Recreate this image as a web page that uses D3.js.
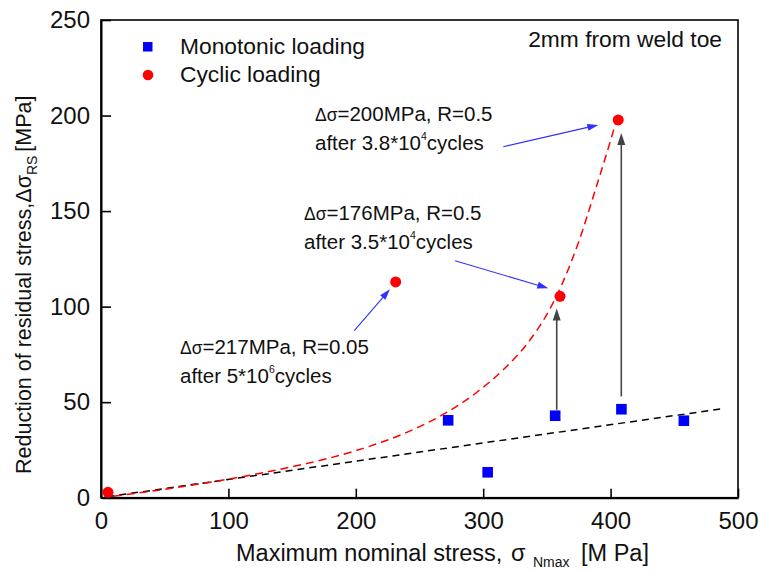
<!DOCTYPE html>
<html>
<head>
<meta charset="utf-8">
<script src="https://cdn.jsdelivr.net/npm/d3@7"></script>
<style>
  html, body { margin: 0; padding: 0; background: #fff; }
  svg { display: block; font-family: Arial, "Liberation Sans", sans-serif; }
</style>
</head>
<body>
<svg id="chart" width="761" height="572"></svg>
<script>
// ---------------- data ----------------
const xTicks = [0, 100, 200, 300, 400, 500];
const yTicks = [0, 50, 100, 150, 200, 250];

const monoX = [272.5, 303.5, 356.5, 408.5, 457.5];
const monoY = [40.5, 13.3, 42.9, 46.3, 40.3];

const cycX = [5.5, 231.3, 360.3, 406.0];
const cycY = [2.8, 112.9, 105.4, 197.7];

// linear fit (black dashed), read at its two ends
const fitLinX = [5, 488];
const fitLinY = [0.5, 46.6];

// curve fit of cyclic loading (red dashed)
const fitCycX = [10, 50, 100, 150, 200, 240, 270, 295, 315, 335, 350, 362, 375, 388, 400, 404];
const fitCycY = [0.8, 4.4, 9.7, 16.2, 24.6, 34.2, 44.1, 55.2, 66.5, 81, 96, 112, 134, 161, 187, 196];

// grey vertical arrows: from monotonic point to cyclic point
const vArrowX = [357.7, 408.4];
const vArrowY0 = [46, 53];
const vArrowY1 = [99, 190.8];

// blue annotation arrows (tail -> tip)
const bArrowX0 = [315.8, 277.9, 198.8];
const bArrowY0 = [183.7, 124.0, 87.4];
const bArrowX1 = [390.4, 351.1, 226.8];
const bArrowY1 = [195.1, 109.6, 109.1];

const annotLine1 = ["=200MPa, R=0.5", "=176MPa, R=0.5", "=217MPa, R=0.05"];
const annotMant = ["after 3.8*10", "after 3.5*10", "after 5*10"];
const annotExp = ["4", "4", "6"];

const legendLabels = ["Monotonic loading", "Cyclic loading"];

// ---------------- drawing ----------------
const svg = d3.select("#chart");
const L = 101, R = 738, T = 20, B = 497.7;
const x = d3.scaleLinear().domain([0, 500]).range([L, R]);
const y = d3.scaleLinear().domain([0, 250]).range([B, T]);
const FONT = "Arial, 'Liberation Sans', sans-serif";

// frame
svg.append("rect").attr("x", L).attr("y", T).attr("width", R - L).attr("height", B - T)
  .attr("fill", "none").attr("stroke", "#000").attr("stroke-width", 1.6);

// axes (ticks inside)
const xAxis = d3.axisBottom(x).tickValues(xTicks).tickSizeInner(-9).tickSizeOuter(0).tickPadding(14);
const gx = svg.append("g").attr("transform", `translate(0,${B})`).call(xAxis);
gx.select(".domain").attr("stroke-width", 2);
gx.selectAll(".tick line").attr("stroke-width", 1.6);
gx.selectAll(".tick text").attr("font-size", 24).attr("font-family", FONT).attr("fill", "#111");

const yAxis = d3.axisLeft(y).tickValues(yTicks).tickSizeInner(-10).tickSizeOuter(0).tickPadding(11);
const gy = svg.append("g").attr("transform", `translate(${L},0)`).call(yAxis);
gy.select(".domain").attr("stroke-width", 2);
gy.selectAll(".tick line").attr("stroke-width", 1.6);
gy.selectAll(".tick text").attr("font-size", 24).attr("font-family", FONT).attr("fill", "#111");

// axis titles
const xt = svg.append("text").attr("y", 561).attr("font-size", 23.5).attr("fill", "#111");
xt.append("tspan").attr("x", 236).text("Maximum nominal stress,");
xt.append("tspan").attr("x", 511).text("σ");
xt.append("tspan").attr("x", 533).attr("font-size", 14).attr("dy", 6).text("Nmax");
xt.append("tspan").attr("x", 581).attr("dy", -6).text("[M Pa]");

const yt = svg.append("text").attr("transform", "translate(31,474) rotate(-90)")
  .attr("font-size", 21.5).attr("fill", "#111");
yt.append("tspan").text("Reduction of residual stress,Δσ");
yt.append("tspan").attr("font-size", 14).attr("dy", 6).text("RS");
yt.append("tspan").attr("dy", -6).attr("dx", 4).text("[MPa]");

// fit lines
const line = d3.line().x(d => x(d[0])).y(d => y(d[1]));
svg.append("path").datum(d3.zip(fitLinX, fitLinY)).attr("d", line)
  .attr("fill", "none").attr("stroke", "#000").attr("stroke-width", 1.5).attr("stroke-dasharray", "7,5");
svg.append("path").datum(d3.zip(fitCycX, fitCycY))
  .attr("d", line.curve(d3.curveMonotoneX))
  .attr("fill", "none").attr("stroke", "#ff0000").attr("stroke-width", 1.5).attr("stroke-dasharray", "8,5");

// arrow helper
function arrow(x0, y0, x1, y1, color, lw, headLen, headW) {
  const dx = x1 - x0, dy = y1 - y0, len = Math.hypot(dx, dy);
  const ux = dx / len, uy = dy / len;
  const bx = x1 - ux * headLen, by = y1 - uy * headLen;
  svg.append("line").attr("x1", x0).attr("y1", y0).attr("x2", bx + ux * 1).attr("y2", by + uy * 1)
    .attr("stroke", color).attr("stroke-width", lw);
  const px = -uy, py = ux;
  svg.append("path")
    .attr("d", `M${x1},${y1}L${bx + px * headW / 2},${by + py * headW / 2}L${bx - px * headW / 2},${by - py * headW / 2}Z`)
    .attr("fill", color);
}

vArrowX.forEach((vx, i) => {
  arrow(x(vx), y(vArrowY0[i]), x(vx), y(vArrowY1[i]), "#444", 1.6, 12, 8);
});
bArrowX0.forEach((bx, i) => {
  arrow(x(bx), y(bArrowY0[i]), x(bArrowX1[i]), y(bArrowY1[i]), "#3030ff", 1.1, 11, 7);
});

// markers
svg.append("g").selectAll("rect").data(d3.zip(monoX, monoY)).join("rect")
  .attr("x", d => x(d[0]) - 5.3).attr("y", d => y(d[1]) - 5.3)
  .attr("width", 10.6).attr("height", 10.6).attr("fill", "#0000ff");
svg.append("g").selectAll("circle").data(d3.zip(cycX, cycY)).join("circle")
  .attr("cx", d => x(d[0])).attr("cy", d => y(d[1])).attr("r", 5.5).attr("fill", "#ff0000");

// legend
svg.append("rect").attr("x", 143).attr("y", 42).attr("width", 9.5).attr("height", 9.5).attr("fill", "#0000ff");
svg.append("circle").attr("cx", 148).attr("cy", 75).attr("r", 5.3).attr("fill", "#ff0000");
svg.append("text").attr("x", 180).attr("y", 54).attr("font-size", 22.8).attr("fill", "#111").text(legendLabels[0]);
svg.append("text").attr("x", 180).attr("y", 82).attr("font-size", 22.8).attr("fill", "#111").text(legendLabels[1]);

svg.append("text").attr("x", 722).attr("y", 47).attr("text-anchor", "end")
  .attr("font-size", 22.8).attr("fill", "#111").text("2mm from weld toe");

// annotations
const annX = [315, 304, 180];
const annY = [120.5, 219.5, 353.5];
annotLine1.forEach((t, i) => {
  const t1 = svg.append("text").attr("x", annX[i]).attr("y", annY[i]).attr("font-size", 20.5).attr("fill", "#111");
  t1.append("tspan").attr("font-size", 17.5).text("Δσ");
  t1.append("tspan").text(t);
  const t2 = svg.append("text").attr("x", annX[i]).attr("y", annY[i] + 29).attr("font-size", 20.5).attr("fill", "#111");
  t2.append("tspan").text(annotMant[i]);
  t2.append("tspan").attr("font-size", 10.5).attr("dy", -10).text(annotExp[i]);
  t2.append("tspan").attr("dy", 10).text("cycles");
});
</script>
</body>
</html>
